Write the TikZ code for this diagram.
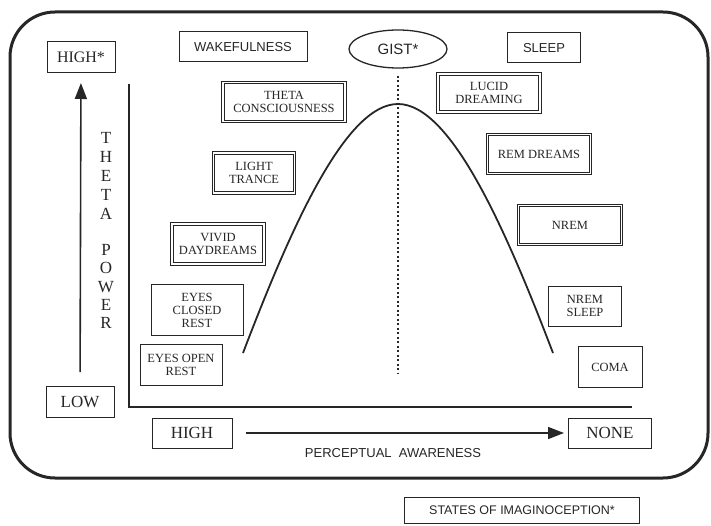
\documentclass[tikz,border=0pt]{standalone}
\usepackage{fontspec}
\setmainfont{Liberation Serif}
\newfontfamily\labelsans{Liberation Sans}
\usetikzlibrary{shapes.geometric}
\usetikzlibrary{arrows.meta}
\colorlet{ink}{black!85}
\tikzset{
	state/.style={draw=ink,line width=1pt,text=ink,align=center,inner sep=1pt,font=\fontsize{12.5}{13}\selectfont},
	dstate/.style={state,double,double distance=1.6pt,line width=0.9pt},
	tag/.style={state,font=\labelsans\fontsize{13}{15}\selectfont},
	lvl/.style={state,font=\fontsize{17}{19}\selectfont},
	letter/.style={text=ink,inner sep=0pt,font=\fontsize{17}{19}\selectfont},
	axis/.style={draw=ink,line width=1.6pt},
	bigarrow/.style={axis,-{Triangle[length=16pt,width=12pt]}},
	curve/.style={draw=ink,line width=1.8pt},
	gistline/.style={draw=ink,line width=2pt,dash pattern=on 2pt off 2.5pt},
}

\begin{document}
\begin{tikzpicture}[x=1pt,y=-1pt]
\useasboundingbox (0,0) rectangle (711,526);
\draw[ink,line width=3pt,rounded corners=45pt] (10,12) rectangle (708,478);

\node[tag,minimum width=128,minimum height=30] (wake) at (243,47) {WAKEFULNESS};
\node[tag,minimum width=73,minimum height=30] (sleep) at (544,48) {SLEEP};
\node[ellipse,draw=ink,line width=1.3pt,text=ink,minimum width=98,minimum height=38,
  font=\labelsans\fontsize{15}{17}\selectfont] (gist) at (398,49) {GIST*};

\node[lvl,minimum width=68,minimum height=31,font=\fontsize{16}{18}\selectfont] (high) at (81,57) {HIGH*};
\node[lvl,minimum width=68,minimum height=31] (low) at (80,402) {LOW};
\node[lvl,minimum width=80,minimum height=30] (hi) at (192,433) {HIGH};
\node[lvl,minimum width=83,minimum height=30] (none) at (610,433) {NONE};

\node[dstate,minimum width=122,minimum height=39] (theta) at (284,102) {THETA\\CONSCIOUSNESS};
\node[dstate,minimum width=102,minimum height=38] (lucid) at (489,93) {LUCID\\DREAMING};
\node[dstate,minimum width=81,minimum height=40] (trance) at (254,173) {LIGHT\\TRANCE};
\node[dstate,minimum width=103,minimum height=39] (rem) at (539,154) {REM DREAMS};
\node[dstate,minimum width=92,minimum height=40] (vivid) at (218,244) {VIVID\\DAYDREAMS};
\node[dstate,minimum width=103,minimum height=39] (nrem) at (570,225) {NREM};
\node[state,minimum width=92,minimum height=51] (closed) at (197,310) {EYES\\CLOSED\\REST};
\node[state,minimum width=73,minimum height=40] (nsleep) at (585,306) {NREM\\SLEEP};
\node[state,minimum width=82,minimum height=41] (open) at (181,365) {EYES OPEN\\REST};
\node[state,minimum width=64,minimum height=41] (coma) at (610,367) {COMA};

\foreach \ch [count=\i] in {T,H,E,T,A}
  \node[letter] (th\i) at (106,{138+19*(\i-1)}) {\ch};
\foreach \ch [count=\i] in {P,O,W,E,R}
  \node[letter] (pw\i) at (106,{250+18.3*(\i-1)}) {\ch};

\draw[axis] (129,84) -- (129,407) -- (632,407);
\draw[bigarrow,shorten <=14pt,shorten >=10pt] (low) -- (high);
\draw[bigarrow,shorten <=13pt,shorten >=4pt] (hi) -- (none);
\node[text=ink,font=\labelsans\fontsize{13}{15}\selectfont] (perc) at (393,453) {PERCEPTUAL\ \ AWARENESS};

\coordinate (gfoot) at (398,373);
\draw[gistline,shorten <=7pt] (gist) -- (gfoot);
\draw[curve] (243,353) .. controls (290,230) and (345,104) .. (398,104)
  .. controls (451,104) and (506,230) .. (553,353);

\node[tag,minimum width=235,minimum height=26,font=\labelsans\fontsize{12.5}{14}\selectfont] (title) at (522,510) {STATES OF IMAGINOCEPTION*};
\end{tikzpicture}
\end{document}
